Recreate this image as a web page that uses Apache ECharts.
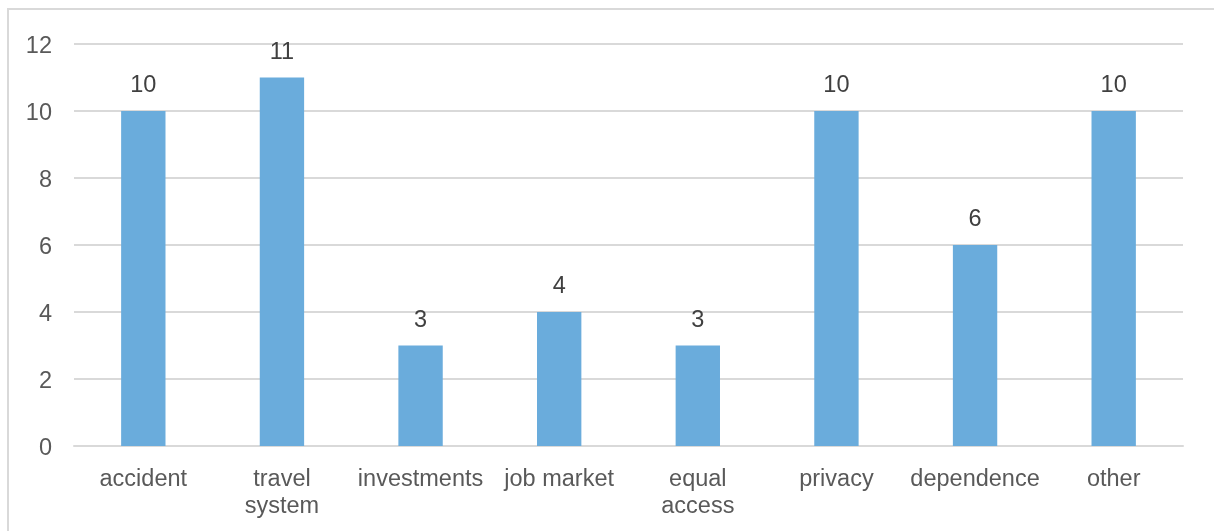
<!DOCTYPE html>
<html>
<head>
<meta charset="utf-8">
<script src="https://cdn.jsdelivr.net/npm/echarts@6/dist/echarts.min.js"></script>
<style>
  html, body { margin: 0; padding: 0; background: #fff; }
  #frame { position: absolute; left: 7px; top: 8px; width: 1214px; height: 531px;
           border-left: 2px solid #d9d9d9; border-top: 2px solid #d9d9d9; box-sizing: border-box; }
  #chart { width: 1214px; height: 531px; position: relative; }
</style>
</head>
<body>
<div id="frame"></div>
<div id="chart"></div>
<script>
const categories = ['accident', 'travel\nsystem', 'investments', 'job market', 'equal\naccess', 'privacy', 'dependence', 'other'];
const counts = [10, 11, 3, 4, 3, 10, 6, 10];
const yTicks = { min: 0, max: 12, interval: 2 };

const chart = echarts.init(document.getElementById('chart'), null, { renderer: 'canvas' });
const font = 'Liberation Sans, Arial, sans-serif';
chart.setOption({
  animation: false,
  grid: { left: 74, right: 31, top: 44, bottom: 85 },
  xAxis: {
    type: 'category',
    data: categories,
    axisLine: { show: true, lineStyle: { color: '#d9d9d9', width: 2 } },
    axisTick: { show: false },
    axisLabel: { color: '#595959', fontSize: 23.5, fontFamily: font, margin: 20, lineHeight: 27, interval: 0 }
  },
  yAxis: {
    type: 'value',
    min: yTicks.min, max: yTicks.max, interval: yTicks.interval,
    axisLine: { show: false },
    axisTick: { show: false },
    splitLine: { lineStyle: { color: '#d9d9d9', width: 2 } },
    axisLabel: {
      color: '#595959', fontSize: 23.5, fontFamily: font, margin: 22,
      formatter: v => '{t|' + v + '}',
      rich: { t: { color: '#595959', fontSize: 23.5, fontFamily: font, padding: [5, 0, 0, 0] } }
    }
  },
  series: [{
    type: 'bar',
    data: counts,
    barWidth: '32%',
    itemStyle: { color: '#6aacdc' },
    label: { show: true, position: 'top', distance: 13, color: '#404040', fontSize: 23.5, fontFamily: font }
  }]
});
</script>
</body>
</html>
